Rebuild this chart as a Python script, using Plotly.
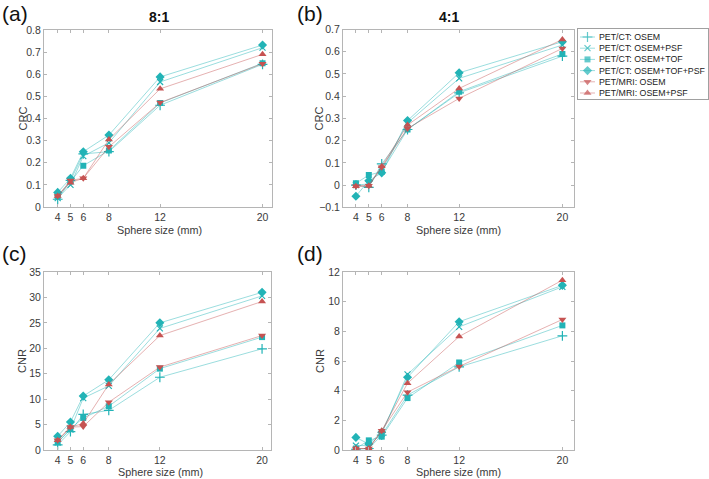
import plotly.graph_objects as go

W, H = 709, 479

sizes = [4, 5, 6, 8, 12, 20]
size_ticks = [4, 5, 6, 8, 12, 20]

series_names = ["PET/CT: OSEM", "PET/CT: OSEM+PSF", "PET/CT: OSEM+TOF",
                "PET/CT: OSEM+TOF+PSF", "PET/MRI: OSEM", "PET/MRI: OSEM+PSF"]

# (a) CRC, 8:1
crc81_ct_osem = [0.035, 0.12, 0.24, 0.25, 0.46, 0.645]
crc81_ct_psf = [0.04, 0.10, 0.23, 0.29, 0.565, 0.72]
crc81_ct_tof = [0.05, 0.115, 0.187, 0.255, 0.47, 0.65]
crc81_ct_tofpsf = [0.066, 0.13, 0.25, 0.325, 0.588, 0.732]
crc81_mr_osem = [0.05, 0.12, 0.13, 0.272, 0.472, 0.648]
crc81_mr_psf = [0.05, 0.11, 0.13, 0.305, 0.534, 0.69]

# (b) CRC, 4:1
crc41_ct_osem = [0.0, -0.01, 0.095, 0.25, 0.415, 0.58]
crc41_ct_psf = [0.0, 0.005, 0.07, 0.28, 0.48, 0.63]
crc41_ct_tof = [0.008, 0.045, 0.06, 0.25, 0.42, 0.59]
crc41_ct_tofpsf = [-0.05, 0.02, 0.055, 0.29, 0.505, 0.645]
crc41_mr_osem = [-0.005, -0.003, 0.08, 0.255, 0.39, 0.615]
crc41_mr_psf = [-0.005, -0.003, 0.085, 0.27, 0.435, 0.655]

# (c) CNR, 8:1
cnr81_ct_osem = [1.0, 3.6, 7.0, 7.8, 14.3, 19.9]
cnr81_ct_psf = [1.5, 4.0, 10.2, 12.6, 23.9, 30.3]
cnr81_ct_tof = [1.5, 4.2, 6.3, 8.6, 16.0, 22.2]
cnr81_ct_tofpsf = [2.7, 5.5, 10.6, 13.8, 25.0, 31.0]
cnr81_mr_osem = [1.9, 4.5, 4.6, 9.4, 16.3, 22.5]
cnr81_mr_psf = [1.9, 4.5, 5.2, 12.9, 22.5, 29.2]

# (d) CNR, 4:1
cnr41_ct_osem = [0.05, 0.1, 1.0, 3.7, 5.6, 7.7]
cnr41_ct_psf = [0.3, 0.3, 1.1, 5.1, 8.3, 11.0]
cnr41_ct_tof = [0.1, 0.65, 0.9, 3.5, 5.9, 8.4]
cnr41_ct_tofpsf = [0.85, 0.4, 1.2, 4.9, 8.65, 11.1]
cnr41_mr_osem = [0.1, 0.1, 1.3, 3.9, 5.63, 8.8]
cnr41_mr_psf = [0.1, 0.1, 1.3, 4.5, 7.65, 11.45]

panels = [
    [crc81_ct_osem, crc81_ct_psf, crc81_ct_tof, crc81_ct_tofpsf, crc81_mr_osem, crc81_mr_psf],
    [crc41_ct_osem, crc41_ct_psf, crc41_ct_tof, crc41_ct_tofpsf, crc41_mr_osem, crc41_mr_psf],
    [cnr81_ct_osem, cnr81_ct_psf, cnr81_ct_tof, cnr81_ct_tofpsf, cnr81_mr_osem, cnr81_mr_psf],
    [cnr41_ct_osem, cnr41_ct_psf, cnr41_ct_tof, cnr41_ct_tofpsf, cnr41_mr_osem, cnr41_mr_psf],
]

CYAN = "#22b3b6"
CYAN_L = "rgba(34,179,182,0.5)"
RED = "#c65352"
RED_L = "rgba(198,83,82,0.5)"
styles = [
    dict(symbol="cross-thin", color=CYAN, line=CYAN_L, size=7),
    dict(symbol="x-thin", color=CYAN, line=CYAN_L, size=6),
    dict(symbol="square", color=CYAN, line=CYAN_L, size=6),
    dict(symbol="diamond", color=CYAN, line=CYAN_L, size=7),
    dict(symbol="triangle-down", color=RED, line=RED_L, size=7),
    dict(symbol="triangle-up", color=RED, line=RED_L, size=7),
]

def px_x(a, b):
    return [a / W, b / W]

def px_y(top, bottom):
    return [1 - bottom / H, 1 - top / H]

domains = [
    (px_x(44, 271.5), px_y(30, 207)),
    (px_x(343, 574), px_y(29.5, 207.3)),
    (px_x(44, 271), px_y(272, 450)),
    (px_x(343, 574), px_y(272, 450)),
]
yranges = [[0, 0.8], [-0.1, 0.7], [0, 35], [0, 12]]
ydticks = [0.1, 0.1, 5, 2]
xranges = [[2.93, 20.7], [3.0, 20.9], [2.93, 20.7], [3.0, 20.9]]
ytitles = ["CRC", "CRC", "CNR", "CNR"]
# axis-title centres in pixels: (x-title cx, x-title cy, y-title cx)
title_pos = [(159.5, 230, 22), (458, 230, 319), (160, 471.5, 22), (458, 471.5, 320)]

fig = go.Figure()
FONT = "Liberation Sans, Arial, Helvetica, sans-serif"
TXT = "#3a3a3a"
AX = "#b5b5b5"

ann = []
for p, (series, (dx, dy)) in enumerate(zip(panels, domains)):
    xa = "x" if p == 0 else f"x{p+1}"
    ya = "y" if p == 0 else f"y{p+1}"
    for i, (name, vals) in enumerate(zip(series_names, series)):
        st = styles[i]
        thin = st["symbol"].endswith("thin")
        fig.add_trace(go.Scatter(
            x=sizes, y=vals, name=name, mode="lines+markers",
            xaxis=xa, yaxis=ya, showlegend=False,
            line=dict(color=st["line"], width=0.9),
            marker=dict(symbol=st["symbol"], size=st["size"], color=st["color"],
                        line=dict(color=st["color"], width=1.2 if thin else 0)),
        ))
    axcommon = dict(showline=True, linecolor=AX, linewidth=1, mirror="ticks",
                    ticks="inside", ticklen=3, tickcolor=AX, showgrid=False,
                    zeroline=False, automargin=False,
                    tickfont=dict(size=10.5, color=TXT, family=FONT))
    fig.update_layout(**{
        ("xaxis" if p == 0 else f"xaxis{p+1}"): dict(
            domain=dx, range=xranges[p], tickvals=size_ticks, anchor=ya, **axcommon),
        ("yaxis" if p == 0 else f"yaxis{p+1}"): dict(
            domain=dy, range=yranges[p], dtick=ydticks[p], anchor=xa, **axcommon),
    })
    xcx, xcy, ycx = title_pos[p]
    ann.append(dict(text="Sphere size (mm)", x=xcx / W, y=1 - xcy / H, xref="paper", yref="paper",
                    xanchor="center", yanchor="middle", showarrow=False,
                    font=dict(size=10.8, color=TXT, family=FONT)))
    ann.append(dict(text=ytitles[p], x=ycx / W, y=(dy[0] + dy[1]) / 2, xref="paper", yref="paper",
                    xanchor="center", yanchor="middle", showarrow=False, textangle=-90,
                    font=dict(size=11, color=TXT, family=FONT)))

# Legend drawn in its own small axis (box 578..708 x 29..99 px)
LEG_N = len(series_names)
for i, name in enumerate(series_names):
    st = styles[i]
    fig.add_trace(go.Scatter(
        x=[0, 1, 2], y=[i, i, i], mode="lines+markers", xaxis="x5", yaxis="y5",
        showlegend=False, hoverinfo="skip",
        line=dict(color=st["line"], width=0.9),
        marker=dict(symbol=st["symbol"], size=[0, st["size"], 0], color=st["color"],
                    line=dict(color=st["color"], width=1.2 if st["symbol"].endswith("thin") else 0)),
    ))
    ann.append(dict(text=name, x=2.3, y=i, xref="x5", yref="y5", xanchor="left",
                    yanchor="middle", showarrow=False,
                    font=dict(size=8.8, color="#222", family=FONT)))
fig.update_layout(
    xaxis5=dict(domain=px_x(578, 708), range=[-0.267, 17.07], anchor="y5",
                showline=True, mirror=True, linecolor="#a0a0a0", linewidth=1,
                showticklabels=False, ticks="", showgrid=False, zeroline=False,
                fixedrange=True, automargin=False),
    yaxis5=dict(domain=px_y(29, 99), range=[5.536, -0.714], anchor="x5",
                showline=True, mirror=True, linecolor="#a0a0a0", linewidth=1,
                showticklabels=False, ticks="", showgrid=False, zeroline=False,
                fixedrange=True, automargin=False),
)

for txt, x, y in [("(a)", 0, 13), ("(b)", 295, 13), ("(c)", 0, 253), ("(d)", 295, 253)]:
    ann.append(dict(text=txt, x=x / W, y=1 - y / H, xref="paper", yref="paper",
                    xanchor="left", yanchor="middle", showarrow=False,
                    font=dict(size=21, color="#111", family=FONT)))
for txt, x, y in [("8:1", 159, 17), ("4:1", 449, 17)]:
    ann.append(dict(text="<b>" + txt + "</b>", x=x / W, y=1 - y / H, xref="paper", yref="paper",
                    xanchor="center", yanchor="middle", showarrow=False,
                    font=dict(size=14, color="#111", family=FONT)))

fig.update_layout(
    width=W, height=H, margin=dict(l=0, r=0, t=0, b=0, autoexpand=False),
    paper_bgcolor="white", plot_bgcolor="white",
    annotations=ann, showlegend=False, hovermode=False,
)

fig.write_html("out.html", config={"displayModeBar": False, "staticPlot": True},
               post_script="document.body.style.margin='0';document.body.style.overflow='hidden';")
